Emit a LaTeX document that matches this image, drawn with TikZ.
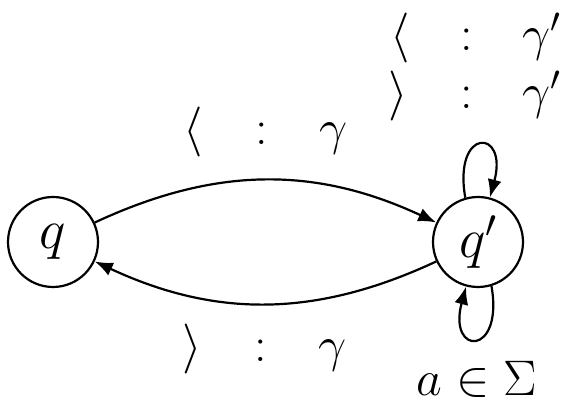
\RequirePackage{fix-cm}
\documentclass[tikz,border=0pt]{standalone}
\usetikzlibrary{arrows.meta}
\newcommand\mybigfont{\fontsize{50}{60}\selectfont}
\newcommand\mystatefont{\fontsize{56}{66}\selectfont}
\begin{document}
\begin{tikzpicture}[x=1pt,y=1pt,
  state/.style={circle,draw,line width=2.2pt,minimum size=90pt,inner sep=0pt,font=\mystatefont},
  lbl/.style={inner sep=0pt,font=\mybigfont},
  tr/.style={line width=2.2pt,-{Latex[length=18pt,width=14pt]}}]
\useasboundingbox (0,0) rectangle (574,411);
\node[state] (q) at (53,169) {$q$};
\node[state] (qp) at (478,169) {$q'$};
\draw[tr] (q) to[bend left=25] (qp);
\draw[tr] (qp) to[bend left=25] (q);
\draw[tr] (qp.106) .. controls +(100:72) and +(75:72) .. (qp.75);
\draw[tr] (qp.-73) .. controls +(-80:72) and +(-105:72) .. (qp.-105);
\node[lbl,anchor=base west] (l1) at (183.3,266.5) {$\langle\hspace{52.3pt}{:}\hspace{52pt}\gamma$};
\node[lbl,anchor=base west] (l2) at (182.3,49.5) {$\rangle\hspace{52.3pt}{:}\hspace{52pt}\gamma$};
\node[lbl,anchor=base west] (l3) at (390.3,360.5) {$\langle\hspace{50.3pt}{:}\hspace{50pt}\gamma'$};
\node[lbl,anchor=base west] (l4) at (388.3,302.5) {$\rangle\hspace{52.3pt}{:}\hspace{50pt}\gamma'$};
\node[lbl,anchor=base] (l5) at (477,15) {$a\in\Sigma$};
\end{tikzpicture}
\end{document}
